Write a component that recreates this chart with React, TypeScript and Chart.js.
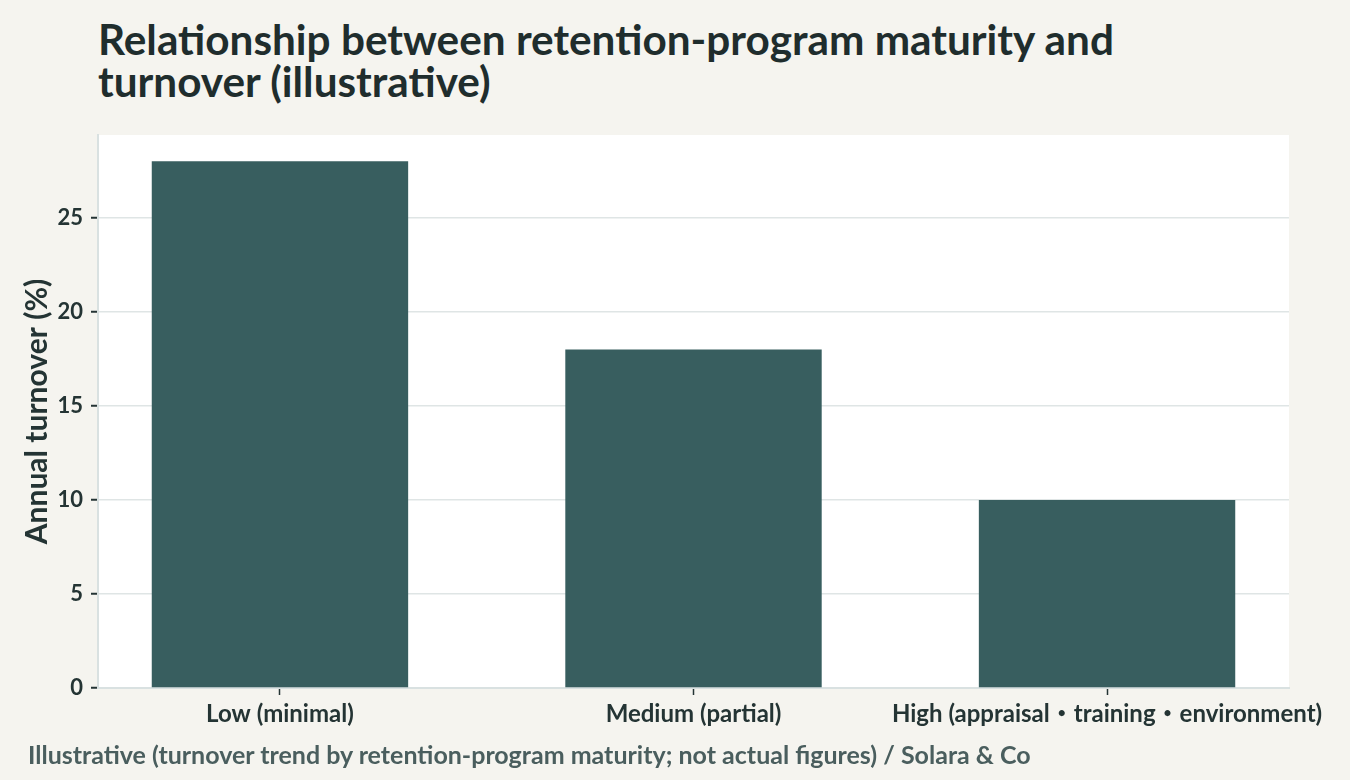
import { useEffect, useRef } from "react";
import { Chart, registerables, type Plugin } from "chart.js";

Chart.register(...registerables);

const categories = ["Low (minimal)", "Medium (partial)", "High (appraisal・training・environment)"];
const turnover = [28, 18, 10];
const yTicks = [0, 5, 10, 15, 20, 25];

const FONT = "Lato, 'Noto Sans CJK JP', 'Noto Sans', sans-serif";
const INK = "#243434";

// white plot panel behind the bars
const panelBg: Plugin<"bar"> = {
  id: "panelBg",
  beforeDraw(chart) {
    const { ctx, chartArea } = chart;
    ctx.save();
    ctx.fillStyle = "#ffffff";
    ctx.fillRect(chartArea.left, chartArea.top, chartArea.right - chartArea.left, chartArea.bottom - chartArea.top);
    ctx.restore();
  },
};

export default function App() {
  const canvasRef = useRef<HTMLCanvasElement>(null);

  useEffect(() => {
    if (!canvasRef.current) return;
    const chart = new Chart(canvasRef.current, {
      type: "bar",
      data: {
        datasets: [
          {
            label: "Annual turnover (%)",
            data: turnover.map((v, i) => ({ x: i, y: v })),
            backgroundColor: "#385e5f",
            categoryPercentage: 1,
            barPercentage: 0.62,
          },
        ],
      },
      plugins: [panelBg],
      options: {
        animation: false,
        responsive: false,
        maintainAspectRatio: false,
        layout: { padding: { top: 25, right: 61, bottom: 16, left: 0 } },
        plugins: {
          legend: { display: false },
          tooltip: { enabled: false },
        },
        scales: {
          x: {
            type: "linear",
            offset: false,
            min: -0.44,
            max: 2.44,
            afterBuildTicks: (scale) => {
              scale.ticks = categories.map((_, i) => ({ value: i }));
            },
            afterFit: (scale) => {
              scale.height = 46;
            },
            grid: {
              offset: false,
              drawOnChartArea: false,
              tickColor: INK,
              tickLength: 7,
              tickWidth: 1.5,
            },
            border: { color: "#d9e1e1", width: 2 },
            ticks: {
              color: INK,
              font: { family: FONT, size: 24, weight: "bold" },
              padding: 5,
              maxRotation: 0,
              autoSkip: false,
              callback: (v) => categories[Number(v)] ?? "",
            },
          },
          y: {
            min: 0,
            max: 29.4,
            afterBuildTicks: (scale) => {
              scale.ticks = yTicks.map((v) => ({ value: v }));
            },
            afterFit: (scale) => {
              scale.width = 98;
            },
            grid: {
              color: "#dfe5e5",
              lineWidth: 1.5,
              tickColor: INK,
              tickLength: 7,
              tickWidth: 2,
            },
            border: { color: "#d9e1e1", width: 2 },
            ticks: {
              color: INK,
              font: { family: FONT, size: 22, weight: "bold" },
              padding: 8,
            },
            title: {
              display: true,
              text: "Annual turnover (%)",
              color: INK,
              font: { family: FONT, size: 30, weight: "bold" },
              padding: { top: 19, bottom: 0 },
            },
          },
        },
      },
    });
    return () => chart.destroy();
  }, []);

  return (
    <div style={{ position: "fixed", inset: 0, width: 1350, height: 780, background: "#f5f4ef", overflow: "hidden" }}>
      <div
        style={{
          position: "absolute",
          left: 98,
          top: 18,
          fontFamily: FONT,
          fontWeight: 700,
          fontSize: 42.3,
          lineHeight: "42px",
          color: "#1f2d2d",
          whiteSpace: "nowrap",
        }}
      >
        Relationship between retention-program maturity and
        <br />
        turnover (illustrative)
      </div>
      <canvas ref={canvasRef} width={1350} height={640} style={{ position: "absolute", left: 0, top: 110, width: 1350, height: 640 }} />
      <div
        style={{
          position: "absolute",
          left: 28,
          top: 740,
          fontFamily: FONT,
          fontWeight: 700,
          fontSize: 25,
          lineHeight: "28px",
          color: "#4a5e5e",
          whiteSpace: "nowrap",
        }}
      >
        Illustrative (turnover trend by retention-program maturity; not actual figures) / Solara &amp; Co
      </div>
    </div>
  );
}
